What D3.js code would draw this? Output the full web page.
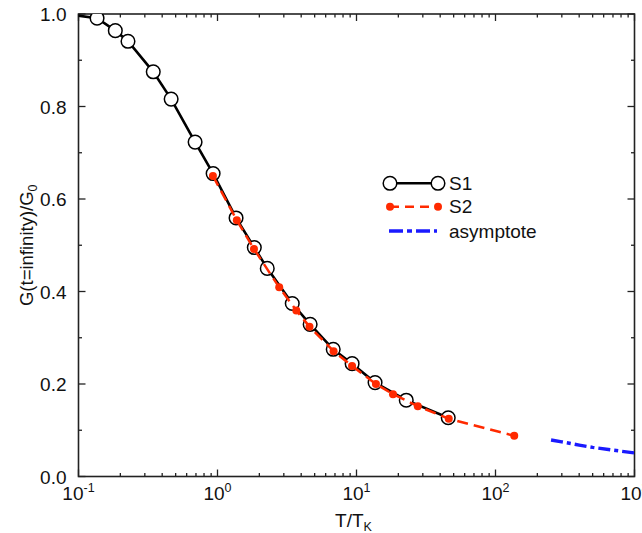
<!DOCTYPE html>
<html>
<head>
<meta charset="utf-8">
<script src="https://cdn.jsdelivr.net/npm/d3@7"></script>
<style>
  body { margin: 0; background: #fff; }
  text { font-family: "Liberation Sans", Arial, Helvetica, sans-serif; fill: #111; }
</style>
</head>
<body>
<svg id="chart" width="642" height="533"></svg>
<script>
// S1: open circles with solid line
var s1X = [0.08, 0.136, 0.184, 0.227, 0.345, 0.464, 0.69, 0.93, 1.36, 1.84, 2.28, 3.45, 4.64, 6.8, 9.3, 13.6, 22.8, 45.7];
var s1Y = [1.0, 0.991, 0.964, 0.941, 0.875, 0.816, 0.723, 0.655, 0.559, 0.495, 0.450, 0.374, 0.329, 0.275, 0.244, 0.203, 0.165, 0.127];
// S2: red dots with dashed line
var s2X = [0.927, 1.377, 1.83, 2.78, 3.69, 4.59, 6.84, 9.29, 13.8, 18.3, 27.6, 46.1, 136.4];
var s2Y = [0.650, 0.554, 0.492, 0.409, 0.359, 0.324, 0.271, 0.239, 0.200, 0.178, 0.152, 0.125, 0.088];
// asymptote: blue dash-dot
var asX = [251, 300, 400, 500, 700, 1000];
var asY = [0.079, 0.075, 0.068, 0.063, 0.057, 0.051];

var yTicks = [0.0, 0.2, 0.4, 0.6, 0.8, 1.0];
var xDecades = [-1, 0, 1, 2, 3];

var svg = d3.select('#chart');
var pLeft = 78.5, pRight = 634.5, pTop = 14, pBottom = 476.5;

var xScale = d3.scaleLog().domain([0.1, 1000]).range([pLeft, pRight]);
var yScale = d3.scaleLinear().domain([0, 1]).range([pBottom, pTop]);

svg.append('defs').append('clipPath').attr('id', 'clip')
    .append('rect')
    .attr('x', pLeft).attr('y', pTop)
    .attr('width', pRight - pLeft).attr('height', pBottom - pTop);

// minor tick values on log axis
var xMinor = [];
for (var d = -1; d < 3; d++) {
    for (var m = 2; m <= 9; m++) xMinor.push(m * Math.pow(10, d));
}
var xMajor = xDecades.map(function (e) { return Math.pow(10, e); });
var yMinor = [0.1, 0.3, 0.5, 0.7, 0.9];

var axisColor = '#222';
var frame = svg.append('g').attr('class', 'frame');

function tickLines(vals, isX, len, onFar) {
    frame.selectAll(null).data(vals).enter().append('line')
        .attr('x1', function (v) { return isX ? xScale(v) : (onFar ? pRight : pLeft); })
        .attr('x2', function (v) { return isX ? xScale(v) : (onFar ? pRight - len : pLeft + len); })
        .attr('y1', function (v) { return isX ? (onFar ? pTop : pBottom) : yScale(v); })
        .attr('y2', function (v) { return isX ? (onFar ? pTop + len : pBottom - len) : yScale(v); })
        .attr('stroke', axisColor)
        .attr('stroke-width', 1.3);
}
tickLines(xMajor, true, 7, false);
tickLines(xMinor, true, 3.5, false);
tickLines(xMajor, true, 7, true);
tickLines(xMinor, true, 3.5, true);
tickLines(yTicks, false, 7, false);
tickLines(yMinor, false, 3.5, false);
tickLines(yTicks, false, 7, true);
tickLines(yMinor, false, 3.5, true);

frame.append('rect')
    .attr('x', pLeft).attr('y', pTop)
    .attr('width', pRight - pLeft).attr('height', pBottom - pTop)
    .attr('fill', 'none')
    .attr('stroke', axisColor)
    .attr('stroke-width', 1.6);

// y tick labels
svg.append('g').selectAll('text')
    .data(yTicks).enter()
    .append('text')
    .attr('x', pLeft - 12)
    .attr('y', function (v) { return yScale(v) + 7; })
    .attr('text-anchor', 'end')
    .style('font-size', '19px')
    .text(function (v) { return v.toFixed(1); });

// x tick labels 10^n (the last one is cut by the edge, as in the original)
var xl = svg.append('g').selectAll('text')
    .data(xDecades).enter()
    .append('text')
    .attr('x', function (e) { return xScale(Math.pow(10, e)); })
    .attr('y', 500)
    .attr('text-anchor', 'middle')
    .style('font-size', '19px');
xl.append('tspan').text('10');
xl.append('tspan').attr('dy', -8).style('font-size', '12.5px').text(function (e) { return e; });

// axis titles
var xt = svg.append('text')
    .attr('x', (pLeft + pRight) / 2 - 3)
    .attr('y', 526.5)
    .attr('text-anchor', 'middle')
    .style('font-size', '19px');
xt.append('tspan').text('T/T');
xt.append('tspan').attr('dy', 4).style('font-size', '12.5px').text('K');

var yt = svg.append('text')
    .attr('transform', 'translate(33,' + ((pTop + pBottom) / 2) + ') rotate(-90)')
    .attr('text-anchor', 'middle')
    .style('font-size', '18.5px');
yt.append('tspan').text('G(t=infinity)/G');
yt.append('tspan').attr('dy', 4).style('font-size', '12.5px').text('0');

// data
var plot = svg.append('g').attr('clip-path', 'url(#clip)');
var line = d3.line()
    .x(function (d) { return xScale(d[0]); })
    .y(function (d) { return yScale(d[1]); });

var s1 = d3.zip(s1X, s1Y);
var s2 = d3.zip(s2X, s2Y);
var as = d3.zip(asX, asY);

var red = '#ff2a00', blue = '#1a1aff';

plot.append('path').datum(s1)
    .attr('d', line)
    .attr('fill', 'none')
    .attr('stroke', '#000')
    .attr('stroke-width', 2.6);
plot.append('g').selectAll('circle')
    .data(s1).enter()
    .append('circle')
    .attr('cx', function (d) { return xScale(d[0]); })
    .attr('cy', function (d) { return yScale(d[1]); })
    .attr('r', 6.8)
    .attr('fill', '#fff')
    .attr('stroke', '#000')
    .attr('stroke-width', 1.5);

plot.append('path').datum(s2)
    .attr('d', line)
    .attr('fill', 'none')
    .attr('stroke', red)
    .attr('stroke-width', 2.5)
    .attr('stroke-dasharray', '11,6');
plot.append('g').selectAll('circle')
    .data(s2).enter()
    .append('circle')
    .attr('cx', function (d) { return xScale(d[0]); })
    .attr('cy', function (d) { return yScale(d[1]); })
    .attr('r', 4)
    .attr('fill', red);

plot.append('path').datum(as)
    .attr('d', line)
    .attr('fill', 'none')
    .attr('stroke', blue)
    .attr('stroke-width', 3.4)
    .attr('stroke-dasharray', '12,4,4,4');

// legend
var lg = svg.append('g');
var lx1 = 390, lx2 = 438, tx = 449;
lg.append('line').attr('x1', lx1).attr('x2', lx2).attr('y1', 183.3).attr('y2', 183.3)
    .attr('stroke', '#000').attr('stroke-width', 2.6);
lg.selectAll('circle.s1').data([lx1, lx2]).enter().append('circle')
    .attr('cx', function (d) { return d; }).attr('cy', 183.3).attr('r', 6.8)
    .attr('fill', '#fff').attr('stroke', '#000').attr('stroke-width', 1.5);
lg.append('line').attr('x1', lx1).attr('x2', lx2).attr('y1', 206.7).attr('y2', 206.7)
    .attr('stroke', red).attr('stroke-width', 2.5).attr('stroke-dasharray', '9,6');
lg.selectAll('circle.s2').data([lx1, lx2]).enter().append('circle')
    .attr('cx', function (d) { return d; }).attr('cy', 206.7).attr('r', 4)
    .attr('fill', red);
lg.append('line').attr('x1', lx1 - 1).attr('x2', lx2 - 1).attr('y1', 231).attr('y2', 231)
    .attr('stroke', blue).attr('stroke-width', 3.4).attr('stroke-dasharray', '14,4,5,4');

lg.selectAll('text').data(['S1', 'S2', 'asymptote']).enter().append('text')
    .attr('x', tx)
    .attr('y', function (d, i) { return [189.5, 213, 237.5][i]; })
    .style('font-size', '19px')
    .text(function (d) { return d; });
</script>
</body>
</html>
